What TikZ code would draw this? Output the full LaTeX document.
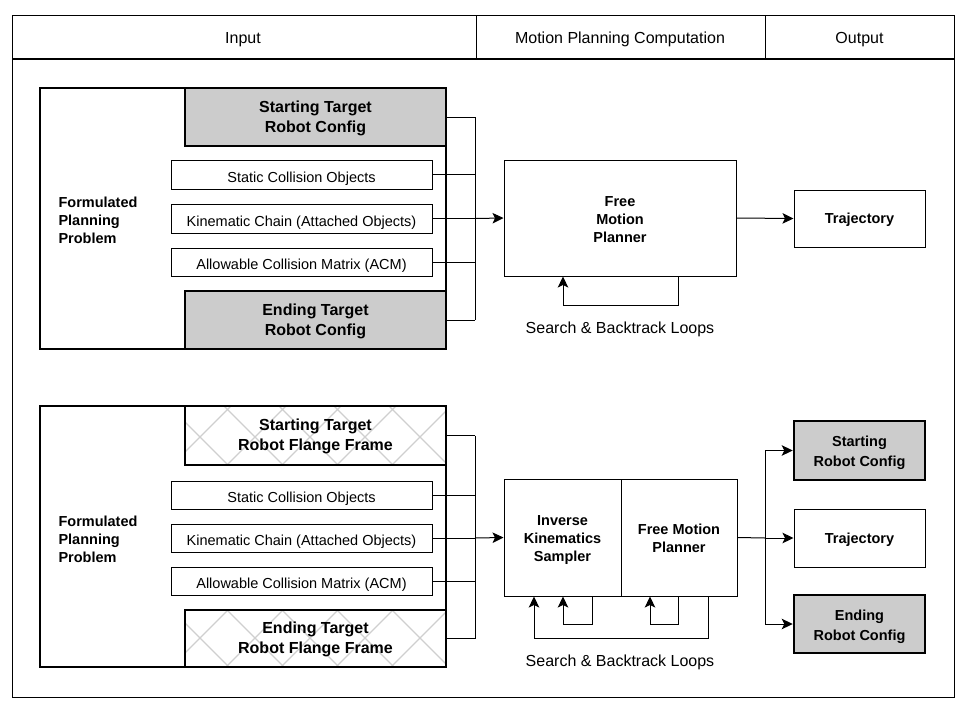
\documentclass[tikz,border=0pt]{standalone}
\usepackage{fontspec}
\setmainfont{Liberation Sans}
\usetikzlibrary{arrows.meta}
\begin{document}
\begin{tikzpicture}[x=1pt,y=-1pt,
  ln/.style={line width=1pt},
  arr/.style={line width=1pt,-{Stealth[length=11pt,width=10.5pt,inset=2.5pt]}},
  smallbox/.style={draw,line width=1pt,inner sep=0pt,align=center,text height=15.5pt,text depth=0pt,font=\fontsize{14.5}{17}\selectfont},
  boldbox/.style={draw,line width=1pt,inner sep=0pt,align=center,text depth=0pt,font=\bfseries\fontsize{14.5}{18}\selectfont},
  bigbox/.style={draw,line width=2.5pt,inner sep=0pt},
  graybox/.style={draw,line width=2.5pt,fill=gray!40,inner sep=0pt,align=center,text depth=0pt,font=\bfseries\fontsize{16}{20}\selectfont},
  hatchbox/.style={draw,line width=2.5pt,inner sep=0pt,align=center,text depth=1pt,font=\bfseries\fontsize{16}{20}\selectfont},
  outgray/.style={draw,line width=2.5pt,fill=gray!40,inner sep=0pt,align=center,text height=32.4pt,text depth=0pt,font=\bfseries\fontsize{14.5}{20}\selectfont},
  hatch/.style={draw=gray!38,line width=1.3pt},
  hdr/.style={font=\fontsize{16}{19}\selectfont},
  lbl/.style={font=\fontsize{16}{19}\selectfont},
  fpp/.style={anchor=west,align=left,font=\bfseries\fontsize{14.5}{18}\selectfont}
]
\useasboundingbox (0,0) rectangle (972,717);
% frame
\draw[ln] (12,16) rectangle (954,697);
\draw[line width=1.5pt] (12,59) -- (954,59);
\draw[ln] (476,16) -- (476,59);
\draw[ln] (765,16) -- (765,59);
\node[hdr] (hin) at (243,39.5) {Input};
\node[hdr] (hmp) at (620,39.5) {Motion Planning Computation};
\node[hdr] (hout) at (859.5,39.5) {Output};

% ---------- top section ----------
\node[bigbox,minimum width=406pt,minimum height=261pt] (bigA) at (243,218.5) {};
\node[graybox,minimum width=261pt,minimum height=58pt] (stA) at (315.5,117) {Starting Target\\Robot Config};
\node[smallbox,minimum width=261pt,minimum height=29pt] (scA) at (301.5,174.5) {Static Collision Objects};
\node[smallbox,minimum width=261pt,minimum height=29pt] (kcA) at (301.5,218.5) {Kinematic Chain (Attached Objects)};
\node[smallbox,minimum width=261pt,minimum height=28pt] (acA) at (301.5,262) {Allowable Collision Matrix (ACM)};
\node[graybox,minimum width=261pt,minimum height=58pt] (enA) at (315.5,320) {Ending Target\\Robot Config};
\node[fpp] (fppA) at (55,220) {Formulated\\Planning\\Problem};
\coordinate (busA) at (475,218.5);
\node[boldbox,text height=49.4pt,minimum width=232pt,minimum height=116pt] (fmpA) at (620,218) {Free\\Motion\\Planner};
\node[boldbox,minimum width=131pt,minimum height=57pt] (trA) at (859.5,218.5) {Trajectory};
\foreach \n in {stA,scA,kcA,acA,enA} \draw[ln] (\n.east) -- (\n.east -| busA);
\draw[ln] (stA.east -| busA) -- (enA.east -| busA);
\draw[arr] (busA) -- (fmpA.west);
\draw[arr] (fmpA.east) -- (trA.west);
\coordinate (lRA) at (678,305);
\coordinate (lLA) at (563,305);
\draw[arr] (lRA |- fmpA.south) -- (lRA) -- (lLA) -- (lLA |- fmpA.south);
\node[lbl] (sbA) at (620,329) {Search \& Backtrack Loops};

% ---------- bottom section ----------
\node[bigbox,minimum width=406pt,minimum height=261pt] (bigB) at (243,536.5) {};
\begin{scope}
  \clip (185,406) rectangle (446,465);
  \foreach \k in {-2,...,5} {
    \draw[hatch] ({169+55*\k},406) -- ++(60,60);
    \draw[hatch] ({171+55*\k},466) -- ++(60,-60);
  }
\end{scope}
\begin{scope}
  \clip (185,610) rectangle (446,667);
  \foreach \k in {-2,...,5} {
    \draw[hatch] ({171+55*\k},609) -- ++(60,60);
    \draw[hatch] ({169+55*\k},669) -- ++(60,-60);
  }
\end{scope}
\node[hatchbox,minimum width=261pt,minimum height=59pt] (stB) at (315.5,435.5) {Starting Target\\Robot Flange Frame};
\node[smallbox,minimum width=261pt,minimum height=28pt] (scB) at (301.5,495) {Static Collision Objects};
\node[smallbox,minimum width=261pt,minimum height=28pt] (kcB) at (301.5,538) {Kinematic Chain (Attached Objects)};
\node[smallbox,minimum width=261pt,minimum height=28pt] (acB) at (301.5,581) {Allowable Collision Matrix (ACM)};
\node[hatchbox,minimum width=261pt,minimum height=57pt] (enB) at (315.5,638.5) {Ending Target\\Robot Flange Frame};
\node[fpp] (fppB) at (55,539) {Formulated\\Planning\\Problem};
\coordinate (busB) at (475,538);
\node[boldbox,text height=48.4pt,minimum width=117pt,minimum height=117pt] (ikB) at (562.5,537.5) {Inverse\\Kinematics\\Sampler};
\node[boldbox,text height=30.4pt,minimum width=116pt,minimum height=117pt] (fmB) at (679,537.5) {Free Motion\\Planner};
\foreach \n in {stB,scB,kcB,acB,enB} \draw[ln] (\n.east) -- (\n.east -| busB);
\draw[ln] (stB.east -| busB) -- (enB.east -| busB);
\draw[arr] (busB) -- (ikB.west);
\coordinate (iR) at (592,624);
\coordinate (iL) at (563,624);
\coordinate (fR) at (678,624);
\coordinate (fL) at (650,624);
\coordinate (oR) at (708,638);
\coordinate (oL) at (534,638);
\draw[arr] (iR |- ikB.south) -- (iR) -- (iL) -- (iL |- ikB.south);
\draw[arr] (fR |- fmB.south) -- (fR) -- (fL) -- (fL |- fmB.south);
\draw[arr] (oR |- fmB.south) -- (oR) -- (oL) -- (oL |- ikB.south);
\node[lbl] (sbB) at (620,662) {Search \& Backtrack Loops};

\coordinate (outbus) at (765,538);
\node[outgray,minimum width=131pt,minimum height=59pt] (soB) at (859.5,450.5) {Starting\\Robot Config};
\node[boldbox,minimum width=131pt,minimum height=58pt] (trB) at (859.5,538) {Trajectory};
\node[outgray,minimum width=131pt,minimum height=58pt] (eoB) at (859.5,624) {Ending\\Robot Config};
\draw[ln] (fmB.east) -- (outbus);
\draw[arr] (outbus) |- (soB.west);
\draw[arr] (outbus) -- (trB.west);
\draw[arr] (outbus) |- (eoB.west);
\end{tikzpicture}
\end{document}
